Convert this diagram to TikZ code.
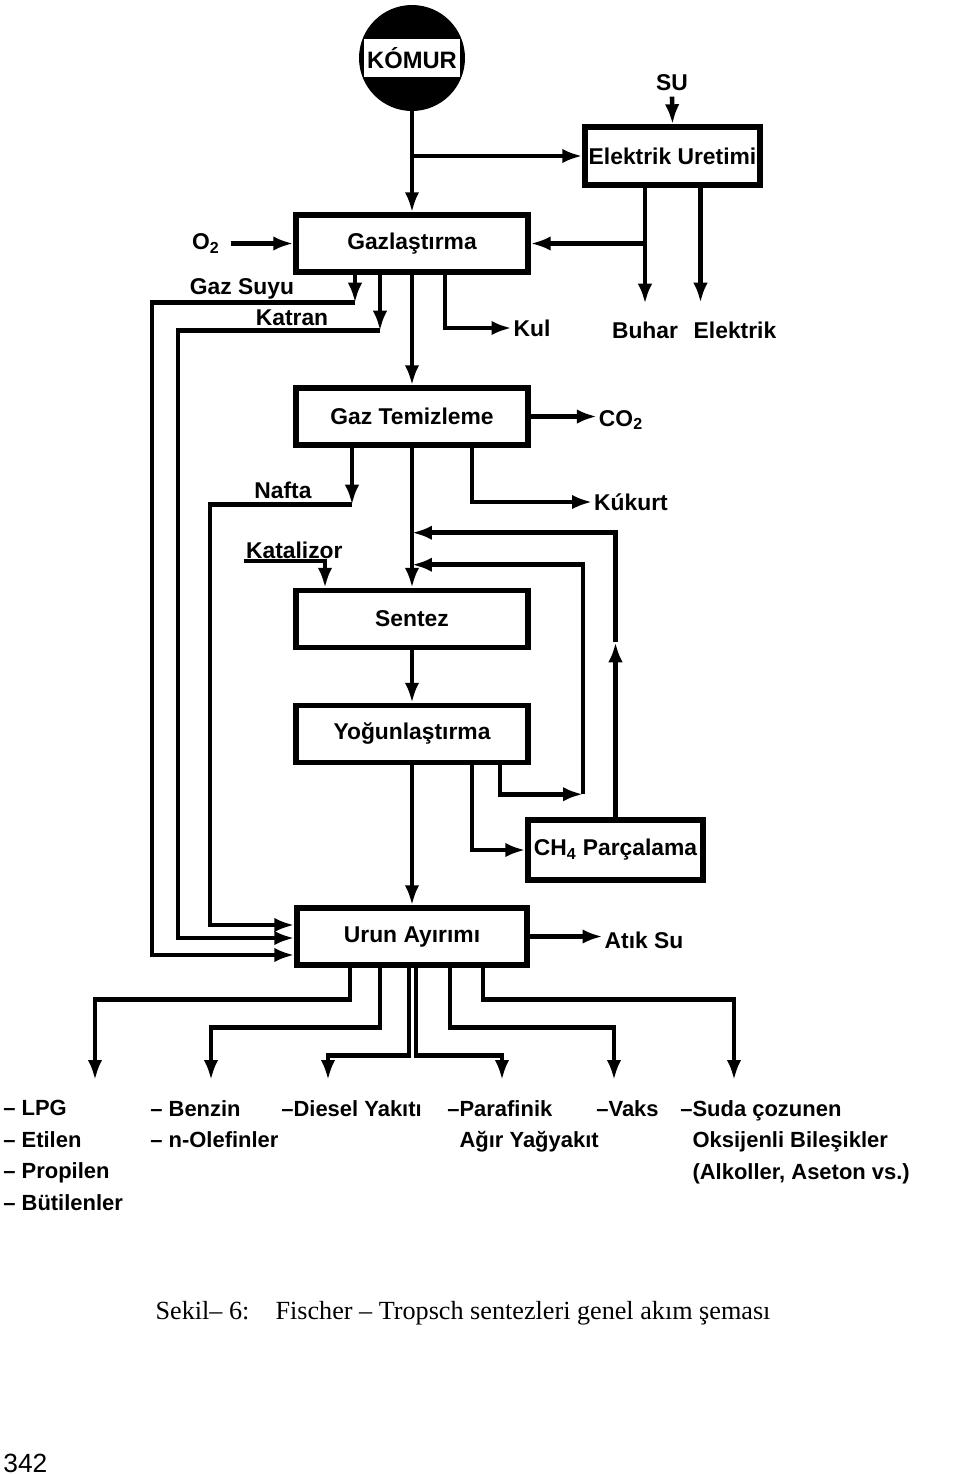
\documentclass[tikz,border=0pt]{standalone}
\usepackage{fontspec}
\setmainfont{Liberation Serif}
\newfontfamily\dgfont{Liberation Sans}
\usetikzlibrary{arrows.meta, positioning, calc}
\definecolor{inkDark}{HTML}{000000}
\tikzset{
  flow/.style={-{Latex[length=4mm, width=2.9mm]}, draw=inkDark, line width=2.6pt},
  boxS/.style={rectangle, draw=inkDark, line width=3.1pt, minimum width=4.64cm,
               minimum height=1.14cm, inner sep=2pt,
               font=\dgfont\bfseries\fontsize{13}{15}\selectfont},
  boxM/.style={boxS, minimum width=3.5cm, minimum height=1.16cm},
  lbl/.style={inner sep=1pt, font=\dgfont\bfseries\fontsize{13}{15}\selectfont},
  prod/.style={inner sep=0pt, anchor=north west, align=left,
               font=\dgfont\bfseries\fontsize{12.5}{18}\selectfont},
}

\begin{document}
\begin{tikzpicture}[x=0.02cm, y=-0.02cm]
    \useasboundingbox (0,0) rectangle (960,1475);

    % kömür
    \node[circle, fill=inkDark, minimum size=2.12cm, inner sep=0pt] (komur) at (412,58) {};
    \node[fill=white, minimum width=1.94cm, minimum height=0.76cm, inner sep=0pt,
          font=\dgfont\bfseries\fontsize{13.5}{15}\selectfont] (komurT) at (komur.center) {KÓMUR};

    % kutular
    \node[boxS] (gaz) at (412,243.5) {Gazlaştırma};
    \node[boxS] (temiz) at (412,416.5) {Gaz Temizleme};
    \node[boxS] (sentez) at (412,619) {Sentez};
    \node[boxS] (yog) at (412,734) {Yoğunlaştırma};
    \node[boxS, minimum width=4.6cm] (urun) at (412,936.5) {Urun Ayırımı};
    \node[boxM] (elek) at (672.5,156) {Elektrik Uretimi};
    \node[boxM, minimum height=1.2cm] (parc) at (615.5,850) {CH\textsubscript{4} Parçalama};

    % etiketler
    \node[lbl] (su) at (672,83) {SU};
    \node[lbl] (o2) at (206,243.5) {O\textsubscript{2}};
    \node[lbl] (gsuyu) at (242,289) {Gaz Suyu};
    \node[lbl] (katran) at (292,318) {Katran};
    \node[lbl] (kul) at (532,328) {Kul};
    \node[lbl] (buhar) at (645,330) {Buhar};
    \node[lbl] (elk) at (735,330) {Elektrik};
    \node[lbl] (co2) at (621,420) {CO\textsubscript{2}};
    \node[lbl] (kukurt) at (631,502) {Kúkurt};
    \node[lbl] (nafta) at (283,490) {Nafta};
    \node[lbl, anchor=south west] (kat) at (244,561) {Katalizor};
    \node[lbl] (atik) at (644,940) {Atık Su};

    \coordinate (uin1) at ($(urun.west)+(0,-11.5)$);
    \coordinate (uin2) at ($(urun.west)+(0,1.5)$);
    \coordinate (uin3) at ($(urun.west)+(0,18.5)$);
    \path (temiz.south) ++(0,85) coordinate (r1) ++(0,32) coordinate (r2);

    % kömür ve elektrik
    \draw[flow] (komur.south) -- (gaz.north);
    \draw[flow] (komur.south |- elek.west) -- (elek.west);
    \draw[flow] ([yshift=-2pt]su.south) -- (elek.north);
    \draw[flow] (elek.south -| buhar.north) -- ([yshift=9pt]buhar.north);
    \draw[flow] ($(elek.south)+(28,0)$) -- ++(0,115);
    \draw[flow] (gaz.east -| buhar.north) -- (gaz.east);
    \draw[flow] ([xshift=5pt]o2.east) -- (gaz.west);

    % gazlaştırma çıkışları
    \draw[flow] ($(gaz.south)+(-57,0)$) -- ++(0,28) coordinate (gs);
    \draw[flow] (gs) -| (152,600) |- (uin3);
    \draw[flow] ($(gaz.south)+(-32,0)$) -- ++(0,56) coordinate (kt);
    \draw[flow] (kt) -| (178,600) |- (uin2);
    \draw[flow] ($(gaz.south)+(33,0)$) |- (kul.west);
    \draw[flow] (gaz.south) -- (temiz.north);

    % gaz temizleme
    \draw[flow] (temiz.east) -- (temiz.east -| co2.west);
    \draw[flow] ($(temiz.south)+(60,0)$) |- (kukurt.west);
    \draw[flow] ($(temiz.south)+(-60,0)$) -- ++(0,57) coordinate (nf);
    \draw[flow] (nf) -| (210,700) |- (uin1);
    \draw[flow] (temiz.south) -- (sentez.north);
    \draw[flow] (kat.south west) -| ($(sentez.north)+(-87,0)$);

    % geri dönüşler
    \draw[flow] (parc.north) -- ++(0,-175) coordinate (pu);
    \draw[flow] (pu) |- (r1);
    \draw[flow] ($(yog.south)+(88,0)$) -- ++(0,29) -- ++(83,0) coordinate (yr);
    \draw[flow] (yr) |- (r2);
    \draw[flow] ($(yog.south)+(60,0)$) |- (parc.west);
    \draw[flow] (sentez.south) -- (yog.north);
    \draw[flow] (yog.south) -- (urun.north);

    % ürün ayırımı
    \draw[flow] (urun.east) -- (urun.east -| atik.west);
    \coordinate (o1) at (95,1080);
    \coordinate (o2) at (211,1080);
    \coordinate (o3) at (328,1080);
    \coordinate (o4) at (502,1080);
    \coordinate (o5) at (614,1080);
    \coordinate (o6) at (734,1080);
    \draw[flow] ($(urun.south)+(-62,0)$) -- ++(0,32) -| (o1);
    \draw[flow] ($(urun.south)+(-32,0)$) -- ++(0,60) -| (o2);
    \draw[flow] ($(urun.south)+(-3,0)$) -- ++(0,88) -| (o3);
    \draw[flow] ($(urun.south)+(4,0)$) -- ++(0,88) -| (o4);
    \draw[flow] ($(urun.south)+(38,0)$) -- ++(0,60) -| (o5);
    \draw[flow] ($(urun.south)+(71,0)$) -- ++(0,32) -| (o6);

    % ürünler
    \node[prod] (p1) at (3,1100) {– LPG\\– Etilen\\– Propilen\\– Bütilenler};
    \node[prod] (p2) at (150,1100) {– Benzin\\– n-Olefinler};
    \node[prod] (p3) at (281,1100) {–Diesel Yakıtı};
    \node[prod] (p4) at (447,1100) {–Parafinik\\\phantom{–}Ağır Yağyakıt};
    \node[prod] (p5) at (596,1100) {–Vaks};
    \node[prod] (p6) at (680,1100) {–Suda çozunen\\\phantom{–}Oksijenli Bileşikler\\\phantom{–}(Alkoller, Aseton vs.)};

    \node[font=\fontsize{14.9}{17}\selectfont] (cap) at (463,1313)
        {Sekil– 6:\quad Fischer – Tropsch sentezleri genel akım şeması};
    \node[anchor=west, inner sep=0pt, font=\dgfont\fontsize{15}{17}\selectfont] (pg) at (3,1463) {342};
\end{tikzpicture}
\end{document}
